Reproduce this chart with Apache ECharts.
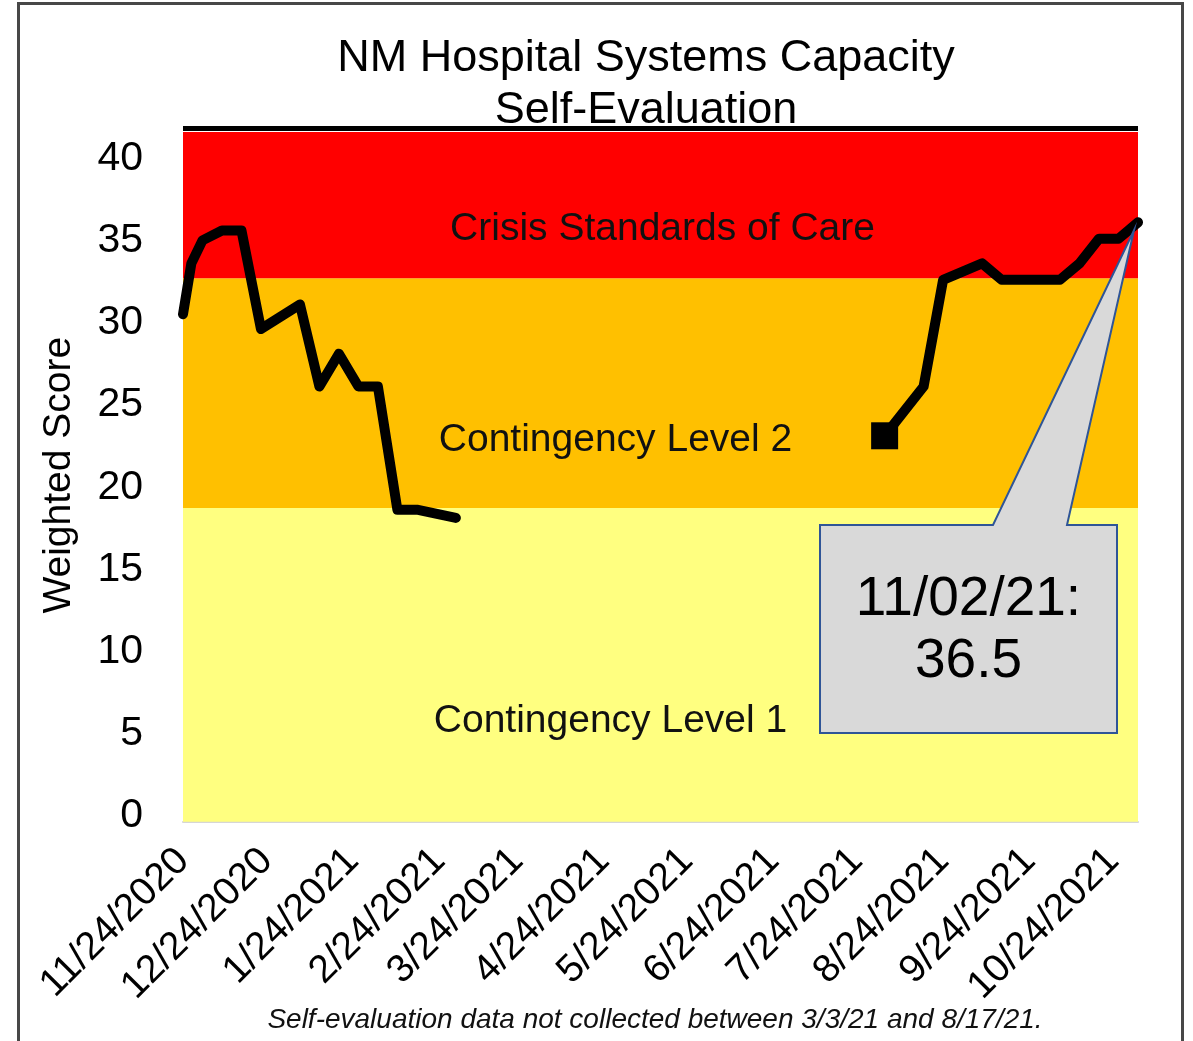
<!DOCTYPE html>
<html>
<head>
<meta charset="utf-8">
<title>NM Hospital Systems Capacity Self-Evaluation</title>
<script src="https://cdn.jsdelivr.net/npm/echarts@6/dist/echarts.min.js"></script>
<style>
  html, body { margin: 0; padding: 0; background: #fff; overflow: hidden; }
  #chart { width: 1193px; height: 1041px; }
  .frame {
    position: absolute; left: 17px; top: 2px;
    width: 1161px; height: 1100px;
    border: 3px solid #474747;
    pointer-events: none;
  }
</style>
</head>
<body>
<div id="chart"></div>
<div class="frame"></div>
<script>
// first collection period
const datesA = ['2020-11-24', '2020-11-27', '2020-12-01', '2020-12-08', '2020-12-15', '2020-12-22',
  '2021-01-05', '2021-01-12', '2021-01-19', '2021-01-26', '2021-02-02', '2021-02-09', '2021-02-16', '2021-03-02']
const scoresA = [30.9, 34, 35.4, 36, 36, 30, 31.5, 26.5, 28.5, 26.5, 26.5, 19, 19, 18.5]

// second collection period
const datesB = ['2021-08-03', '2021-08-17', '2021-08-24', '2021-08-31', '2021-09-07', '2021-09-14', '2021-09-21',
  '2021-09-28', '2021-10-05', '2021-10-12', '2021-10-19', '2021-10-26', '2021-11-02']
const scoresB = [23.5, 26.5, 33, 33.5, 34, 33, 33, 33, 33, 34, 35.5, 35.5, 36.5]

// x tick labels (monthly)
const tickDates = ['2020-11-24', '2020-12-24', '2021-01-24', '2021-02-24', '2021-03-24', '2021-04-24',
  '2021-05-24', '2021-06-24', '2021-07-24', '2021-08-24', '2021-09-24', '2021-10-24']
const yTicks = [0, 5, 10, 15, 20, 25, 30, 35, 40]

// background levels
const bandNames = ['Contingency Level 1', 'Contingency Level 2', 'Crisis Standards of Care']
const bandEdges = [0, 19.1, 33.1, 42]
const bandColors = ['#ffff80', '#ffc000', '#ff0000']

const xStart = '2020-11-24'
const xEnd = '2021-11-02'
const yMax = 42.2

const FONT = '"Liberation Sans", Arial, sans-serif'

function toTime(s) {
  const p = s.split('-').map(Number)
  return new Date(p[0], p[1] - 1, p[2]).getTime()
}
function fmtTick(v) {
  const d = new Date(v)
  return (d.getMonth() + 1) + '/' + d.getDate() + '/' + d.getFullYear()
}
function fmtShort(s) {
  const p = s.split('-')
  return p[1] + '/' + p[2] + '/' + p[0].slice(2)
}

const chart = echarts.init(document.getElementById('chart'), null, { renderer: 'canvas' })

// label nudges inside each band (px)
const bandLabelOffsets = [[-50, 56], [-45, 47], [2, 24]]

const bandAreas = bandNames.map((name, i) => [
  {
    name: name,
    yAxis: bandEdges[i],
    itemStyle: { color: bandColors[i] },
    label: {
      show: true,
      position: 'inside',
      offset: bandLabelOffsets[i],
      formatter: name,
      color: '#111',
      fontSize: 39,
      fontFamily: FONT
    }
  },
  { yAxis: bandEdges[i + 1] }
])

chart.setOption({
  animation: false,
  title: {
    text: 'NM Hospital Systems Capacity\nSelf-Evaluation',
    left: 641,
    textAlign: 'center',
    top: 28,
    z: 1,
    textStyle: { fontSize: 45, fontWeight: 'normal', color: '#000', fontFamily: FONT, lineHeight: 52 }
  },
  grid: {
    left: 183,
    right: 55,
    top: 128.7,
    bottom: 219.3,
    containLabel: false,
    outerBoundsMode: 'none'
  },
  xAxis: {
    type: 'value',
    min: toTime(xStart),
    max: toTime(xEnd),
    axisLine: { show: true, lineStyle: { color: '#d6d6d6', width: 2 } },
    axisTick: { show: false },
    splitLine: { show: false },
    axisLabel: {
      customValues: tickDates.map(toTime),
      formatter: fmtTick,
      rotate: 45,
      margin: 33,
      fontSize: 39,
      color: '#000',
      fontFamily: FONT,
      hideOverlap: false
    }
  },
  yAxis: {
    type: 'value',
    min: 0,
    max: yMax,
    interval: 5,
    name: 'Weighted Score',
    nameLocation: 'middle',
    nameGap: 104,
    nameTextStyle: { fontSize: 39, color: '#000', fontFamily: FONT },
    axisLine: { show: false },
    axisTick: { show: false },
    splitLine: { show: false },
    axisLabel: {
      customValues: yTicks,
      margin: 40,
      fontSize: 41,
      color: '#000',
      fontFamily: FONT,
      verticalAlign: 'bottom',
      lineHeight: 12
    }
  },
  series: [
    {
      type: 'line',
      z: 3,
      silent: true,
      showSymbol: false,
      data: datesA.map((d, i) => [toTime(d), scoresA[i]]),
      lineStyle: { color: '#000', width: 10, cap: 'round', join: 'round' },
      itemStyle: { color: '#000' },
      emphasis: { disabled: true },
      markArea: {
        silent: true,
        z: 1,
        data: bandAreas
      },
      markLine: {
        silent: true,
        symbol: 'none',
        label: { show: false },
        lineStyle: { color: '#000', width: 5, type: 'solid' },
        data: [{ yAxis: yMax }]
      }
    },
    {
      type: 'line',
      z: 3,
      silent: true,
      showSymbol: true,
      symbol: (val, params) => (params.dataIndex === 0 ? 'rect' : 'none'),
      symbolSize: 27,
      data: datesB.map((d, i) => [toTime(d), scoresB[i]]),
      lineStyle: { color: '#000', width: 10, cap: 'round', join: 'round' },
      itemStyle: { color: '#000', borderWidth: 0 },
      emphasis: { disabled: true }
    }
  ]
})

// callout pointing at the latest score
const lastDate = datesB[datesB.length - 1]
const lastScore = scoresB[scoresB.length - 1]
const tip = chart.convertToPixel({ seriesIndex: 1 }, [toTime(lastDate), lastScore])
const box = { x1: 820, y1: 525, x2: 1117, y2: 733, p1: 993, p2: 1067 }

chart.setOption({
  graphic: [
    {
      type: 'polygon',
      z: 10,
      silent: true,
      shape: {
        points: [
          [box.x1, box.y1], [box.p1, box.y1], [tip[0] - 4, tip[1] + 8], [box.p2, box.y1],
          [box.x2, box.y1], [box.x2, box.y2], [box.x1, box.y2]
        ]
      },
      style: { fill: '#d9d9d9', stroke: '#2f5597', lineWidth: 2 }
    },
    {
      type: 'text',
      z: 11,
      silent: true,
      x: (box.x1 + box.x2) / 2,
      y: 631,
      style: {
        text: fmtShort(lastDate) + ':\n' + lastScore,
        fill: '#000',
        font: '55px ' + FONT,
        lineHeight: 62,
        align: 'center',
        verticalAlign: 'middle'
      }
    },
    {
      type: 'text',
      silent: true,
      x: 655,
      y: 1020,
      style: {
        text: 'Self-evaluation data not collected between 3/3/21 and 8/17/21.',
        fill: '#111',
        font: 'italic 28px ' + FONT,
        align: 'center',
        verticalAlign: 'middle'
      }
    }
  ]
})
</script>
</body>
</html>
